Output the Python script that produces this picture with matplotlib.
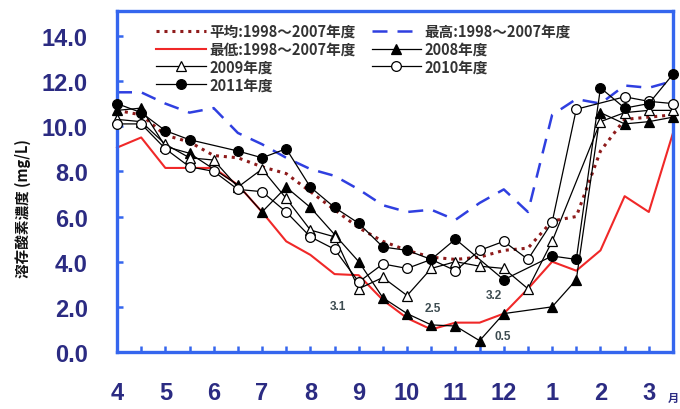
import numpy as np
import matplotlib
matplotlib.use("Agg")
import matplotlib.pyplot as plt

# half-month sampling from April to the following March
month_labels = ["4", "5", "6", "7", "8", "9", "10", "11", "12", "1", "2", "3"]
nan = np.nan

avg_9807 = [10.7, 10.5, 9.6, 9.3, 8.7, 8.6, 8.2, 7.9, 7.1, 6.3, 5.5, 4.9,
            4.5, 4.2, 4.1, 4.2, 4.5, 4.6, 5.8, 6.0, 8.9, 10.3, 10.4, 10.5]
max_9807 = [11.5, 11.5, 11.0, 10.6, 10.8, 9.7, 9.2, 8.6, 8.1, 7.8, 7.2, 6.5,
            6.2, 6.3, 5.85, 6.6, 7.2, 6.2, 10.5, 11.2, 11.0, 11.8, 11.7, 12.0]
min_9807 = [9.05, 9.5, 8.15, 8.15, 8.15, 7.4, 6.2, 4.9, 4.3, 3.45, 3.4, 2.3,
            1.5, 1.0, 1.3, 1.3, 1.7, 2.8, 4.0, 3.6, 4.5, 6.9, 6.2, 9.7]
y2008 = [10.7, 10.8, 9.1, 8.8, nan, 7.4, 6.2, 7.3, 6.4, 5.2, 4.0, 2.4,
         1.7, 1.2, 1.15, 0.5, 1.7, nan, 2.0, 3.2, 10.6, 10.1, 10.2, 10.4]
y2009 = [10.3, 10.2, 9.2, 8.6, 8.5, 7.3, 8.1, 6.8, 5.4, 5.1, 2.8, 3.3,
         2.5, 3.7, 4.0, 3.8, 3.7, 2.8, 4.9, nan, 10.2, 10.6, 10.7, 10.7]
y2010 = [10.1, 10.1, 9.0, 8.2, 8.0, 7.2, 7.1, 6.2, 5.1, 4.55, 3.1, 3.9,
         3.7, 4.1, 3.6, 4.5, 4.9, 4.1, 5.75, 10.75, nan, 11.3, 11.1, 11.0]
y2011 = [11.0, 10.6, 9.8, 9.4, nan, 8.9, 8.6, 9.0, 7.3, 6.4, 5.7, 4.65,
         4.5, 4.1, 5.0, nan, 3.2, nan, 4.25, 4.1, 11.7, 10.8, 11.0, 12.3]

# minimum value callouts: (series, index, text, offset in pixels)
callouts = [(y2010, 10, "3.1", (-21, -24)),
            (y2009, 12, "2.5", (26, -12)),
            (y2011, 16, "3.2", (-10, -15)),
            (y2008, 15, "0.5", (23, 5))]

x = np.arange(len(avg_9807))

cjk = ["Noto Sans CJK JP", "DejaVu Sans"]
spine_blue = "#3566EE"
navy = "#2B2B82"

fig = plt.figure(figsize=(6.8, 4.1), dpi=100)
ax = fig.add_axes([117 / 680, 57 / 410, 556 / 680, 341 / 410])


def draw(vals, **kw):
    v = np.array(vals, dtype=float)
    m = ~np.isnan(v)
    return ax.plot(x[m], v[m], clip_on=False, **kw)[0]


h_avg = draw(avg_9807, color="#8E1B1B", lw=2.2, dashes=(1.0, 1.6), zorder=2)
h_max = draw(max_9807, color="#2F3FE0", lw=1.8, dashes=(6, 4), zorder=2)
h_min = draw(min_9807, color="#F02828", lw=1.5, zorder=2)

yr = dict(color="black", lw=0.9, ms=7, mec="black", mew=0.9, zorder=3)
h08 = draw(y2008, marker="^", mfc="black", **yr)
h09 = draw(y2009, marker="^", mfc="white", **yr)
h10 = draw(y2010, marker="o", mfc="white", **yr)
h11 = draw(y2011, marker="o", mfc="black", **yr)

for vals, i, txt, off in callouts:
    ax.annotate(txt, xy=(x[i], vals[i]), xytext=off, textcoords="offset pixels",
                ha="center", va="center", fontsize=8.5, fontweight="bold",
                color="#3C4B50", family="Liberation Sans", zorder=4)

ax.set_xlim(0, 23)
ax.set_ylim(0, 15.1)
ax.set_xticks(x[::2])
ax.set_xticklabels(month_labels)
ax.set_xticks(x, minor=True)
ax.set_yticks(np.arange(0, 15, 2))
ax.set_yticklabels([f"{v:.1f}" for v in np.arange(0, 15, 2)])

for s in ax.spines.values():
    s.set_color(spine_blue)
    s.set_linewidth(2.4)
ax.tick_params(which="both", direction="in", color=spine_blue, width=1.8,
               length=4, top=False, right=False)
ax.tick_params(axis="both", which="major", pad=21, labelsize=17,
               labelcolor=navy)
for lab in ax.get_xticklabels() + ax.get_yticklabels():
    lab.set_family("Liberation Sans")
    lab.set_fontweight("bold")

ax.set_ylabel("溶存酸素濃度 (mg/L)", family=cjk, fontsize=10.5,
              fontweight="bold", color="#111111")
ax.yaxis.set_label_coords(-0.155, 0.425)

# month unit, tucked into the bottom-right corner
fig.text(0.999, 0.012, "月", family=cjk, fontsize=8, fontweight="bold",
         color=navy, ha="right", va="bottom")

handles = [h_avg, h_min, h09, h11, h_max, h08, h10]
labels = ["平均:1998～2007年度", "最低:1998～2007年度", "2009年度", "2011年度",
          "最高:1998～2007年度", "2008年度", "2010年度"]
leg = ax.legend(handles, labels, ncol=2, loc="upper left",
                bbox_to_anchor=(0.057, 0.986), frameon=False, borderpad=0,
                handlelength=3.4, handletextpad=0.25, columnspacing=1.1,
                labelspacing=0.12, prop={"family": cjk, "size": 10.5,
                                         "weight": "bold"})
for t in leg.get_texts():
    t.set_color("#333333")

fig.savefig("out.png", dpi=100, facecolor="white")
